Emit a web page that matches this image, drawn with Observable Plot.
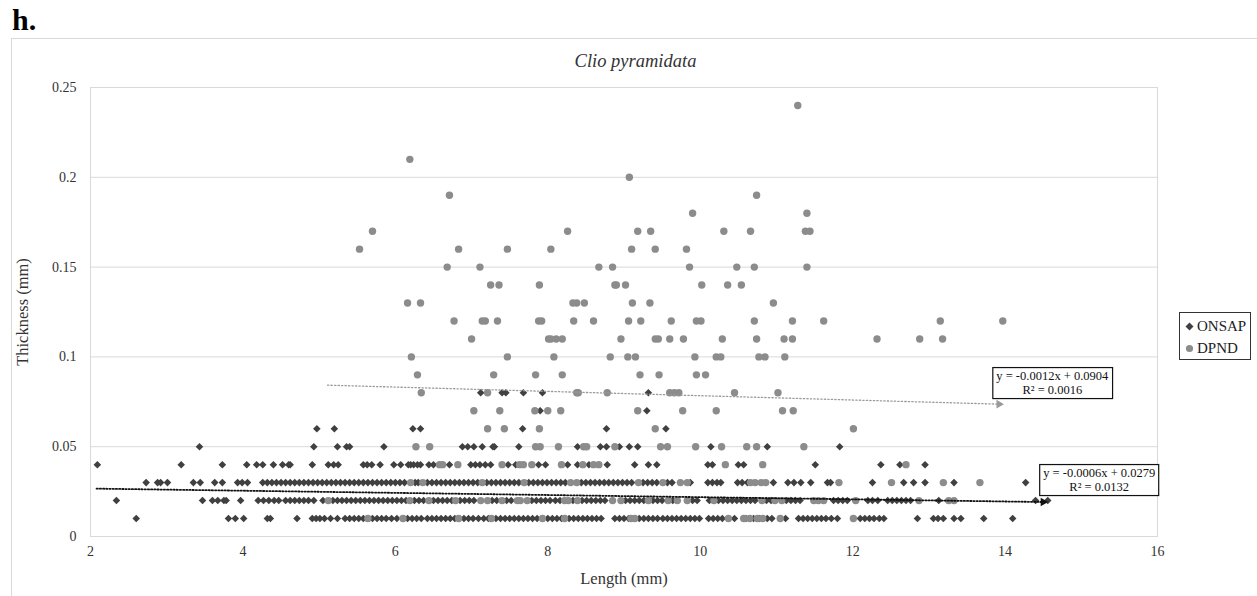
<!DOCTYPE html>
<html><head><meta charset="utf-8">
<script src="https://cdn.jsdelivr.net/npm/d3@7"></script>
<script src="https://cdn.jsdelivr.net/npm/@observablehq/plot@0.6"></script>
<style>
body{margin:0;background:#fff;font-family:"Liberation Serif","Times New Roman",serif;color:#222;}
#page{position:relative;width:1257px;height:596px;overflow:hidden;}
#fig{position:absolute;left:12px;top:0px;font-size:30px;font-weight:bold;line-height:40px;color:#000;}
#frame{position:absolute;left:11px;top:38px;width:1270px;height:580px;border:1px solid #d9d9d9;}
#chart{position:absolute;left:0;top:0;}
#chart svg text{font-family:"Liberation Serif","Times New Roman",serif;}
#legend{position:absolute;left:1179px;top:312px;width:72px;height:48px;border:1px solid #333;box-sizing:border-box;background:#fff;}
#legend .item{position:absolute;left:0;height:20px;line-height:20px;font-size:15px;color:#222;}
#legend svg{position:absolute;left:5px;top:6px;}
#legend span{position:absolute;left:17px;white-space:nowrap;}
</style>
</head><body>
<div id="page">
  <div id="frame"></div>
  <div id="fig">h.</div>
  <div id="chart"></div>
  <div id="legend"></div>
</div>
<script>
// ---- labels & ticks ----
const chartTitle = "Clio pyramidata";
const xLabel = "Length (mm)";
const yLabel = "Thickness (mm)";
const xTicks = [2, 4, 6, 8, 10, 12, 14, 16];
const yTicks = [0, 0.05, 0.1, 0.15, 0.2, 0.25];
const yTickLabels = ["0", "0.05", "0.1", "0.15", "0.2", "0.25"];
const seriesNames = ["ONSAP", "DPND"];

// ---- ONSAP lengths (mm) by thickness level ----
const onsap01 = [2.60, 3.81, 3.90, 4.01, 4.32, 4.36, 4.71, 4.91, 4.96, 5.01, 5.07, 5.15, 5.24, 5.34, 5.40, 5.46, 5.52, 5.58, 5.70, 5.76, 5.82, 5.88, 5.95, 6.02, 6.16, 6.22, 6.28, 6.34, 6.42, 6.48, 6.54, 6.60, 6.66, 6.72, 6.78, 6.90, 6.96, 7.02, 7.09, 7.16, 7.22, 7.32, 7.38, 7.44, 7.50, 7.56, 7.62, 7.68, 7.74, 7.80, 7.86, 8.00, 8.06, 8.12, 8.18, 8.28, 8.34, 8.40, 8.46, 8.52, 8.58, 8.64, 8.70, 8.88, 8.94, 9.00, 9.06, 9.20, 9.26, 9.32, 9.38, 9.44, 9.51, 9.57, 9.63, 9.69, 9.75, 9.81, 9.87, 9.93, 9.99, 10.11, 10.17, 10.23, 10.29, 10.45, 10.60, 10.70, 10.78, 10.88, 10.94, 11.06, 11.12, 11.29, 11.35, 11.41, 11.47, 11.53, 11.59, 11.65, 11.72, 11.80, 12.10, 12.16, 12.22, 12.28, 12.35, 12.41, 12.85, 13.06, 13.12, 13.19, 13.33, 13.42, 13.72, 14.10];
const onsap02 = [2.34, 3.47, 3.60, 3.67, 3.75, 3.78, 3.97, 4.20, 4.27, 4.34, 4.41, 4.47, 4.56, 4.62, 4.68, 4.74, 4.80, 4.86, 4.93, 5.05, 5.18, 5.24, 5.30, 5.36, 5.42, 5.48, 5.54, 5.60, 5.66, 5.72, 5.78, 5.84, 5.90, 5.96, 6.02, 6.08, 6.14, 6.25, 6.31, 6.37, 6.50, 6.56, 6.62, 6.68, 6.74, 6.85, 6.91, 6.97, 7.03, 7.27, 7.33, 7.46, 7.52, 7.79, 7.85, 7.91, 7.97, 8.03, 8.10, 8.16, 8.33, 8.45, 8.51, 8.57, 8.63, 8.69, 8.75, 9.02, 9.08, 9.14, 9.20, 9.26, 9.38, 9.44, 9.50, 9.64, 9.90, 9.96, 10.12, 10.24, 10.30, 10.36, 10.42, 10.48, 10.54, 10.60, 10.66, 10.72, 10.87, 10.93, 11.13, 11.19, 11.25, 11.31, 11.75, 11.81, 11.87, 11.93, 12.20, 12.26, 12.33, 12.46, 12.52, 12.58, 12.64, 12.70, 12.76, 13.13, 14.40, 14.56];
const onsap03 = [2.73, 2.88, 2.92, 3.01, 3.35, 3.44, 3.63, 3.73, 3.93, 3.99, 4.06, 4.26, 4.32, 4.38, 4.44, 4.50, 4.56, 4.62, 4.68, 4.74, 4.80, 4.86, 4.92, 4.98, 5.04, 5.10, 5.16, 5.22, 5.28, 5.34, 5.40, 5.46, 5.52, 5.58, 5.64, 5.70, 5.76, 5.82, 5.88, 5.94, 6.00, 6.06, 6.12, 6.26, 6.30, 6.42, 6.48, 6.54, 6.60, 6.66, 6.72, 6.78, 6.84, 6.90, 6.96, 7.02, 7.08, 7.20, 7.26, 7.32, 7.38, 7.44, 7.50, 7.56, 7.62, 7.75, 7.81, 7.87, 7.93, 7.99, 8.05, 8.11, 8.17, 8.23, 8.44, 8.50, 8.56, 8.62, 8.68, 8.74, 8.80, 8.86, 8.92, 8.98, 9.04, 9.10, 9.25, 9.31, 9.37, 9.43, 9.57, 9.63, 9.87, 10.10, 10.16, 10.22, 10.27, 10.49, 10.55, 10.62, 10.96, 11.15, 11.23, 11.32, 11.45, 11.67, 11.71, 12.26, 12.67, 12.80, 12.95, 13.33, 14.27];
const onsap04 = [2.09, 3.19, 3.73, 4.05, 4.18, 4.26, 4.40, 4.52, 4.60, 4.62, 4.91, 5.12, 5.19, 5.25, 5.58, 5.63, 5.69, 5.80, 5.98, 6.07, 6.17, 6.20, 6.24, 6.29, 6.33, 6.44, 6.50, 6.71, 6.99, 7.05, 7.11, 7.18, 7.25, 7.48, 7.58, 7.88, 7.97, 8.26, 8.39, 8.54, 8.78, 9.14, 9.32, 9.43, 10.10, 10.16, 10.50, 10.57, 11.51, 12.37, 12.62, 12.95];
const onsap05 = [3.43, 4.93, 5.24, 5.36, 5.40, 5.85, 6.88, 6.95, 7.03, 7.14, 7.28, 7.30, 7.62, 8.39, 8.69, 8.77, 8.94, 9.07, 9.18, 10.14, 10.88, 11.83];
const onsap06 = [4.97, 5.20, 6.23, 6.33, 7.67, 8.77, 9.55];
const onsap07 = [7.90, 9.30];
const onsap08 = [7.12, 7.40, 7.45, 7.68, 7.93, 9.32];

// ---- DPND lengths (mm) by thickness level ----
const dpnd01 = [5.64, 6.10, 6.83, 7.26, 7.93, 8.22, 9.09, 9.14, 10.37, 10.57, 10.65, 10.75, 10.82, 11.05, 12.01];
const dpnd02 = [5.12, 6.19, 6.44, 6.79, 7.12, 7.21, 7.40, 7.60, 7.64, 7.73, 8.22, 8.27, 8.39, 8.85, 8.96, 9.32, 9.58, 9.70, 9.83, 10.18, 10.81, 10.98, 11.07, 11.49, 11.55, 11.62, 12.04, 12.87, 13.26, 13.33];
const dpnd03 = [6.20, 6.36, 7.14, 7.69, 8.30, 8.38, 9.19, 9.51, 9.74, 9.83, 10.66, 10.72, 10.80, 10.86, 11.82, 12.51, 13.19, 13.67];
const dpnd04 = [6.58, 6.62, 6.82, 7.40, 7.63, 7.68, 7.79, 8.18, 8.46, 8.60, 8.67, 10.33, 10.82, 12.70];
const dpnd05 = [6.27, 6.45, 7.84, 7.90, 8.14, 8.47, 8.51, 8.88, 9.48, 9.57, 9.94, 10.28, 10.61, 10.74, 11.36];
const dpnd06 = [7.21, 7.43, 7.89, 9.41, 12.01];
const dpnd07 = [7.03, 7.37, 7.83, 8.00, 8.17, 9.18, 9.77, 10.21, 11.08, 11.22];
const dpnd08 = [6.34, 7.21, 8.38, 8.40, 8.78, 9.60, 9.66, 9.72, 10.45, 11.02];
const dpnd09 = [6.29, 7.29, 7.84, 8.19, 9.21, 9.46, 9.95, 10.07];
const dpnd10 = [6.21, 7.47, 8.08, 8.82, 9.05, 9.15, 9.93, 10.21, 10.27, 10.77, 10.85, 11.11];
const dpnd11 = [7.00, 8.01, 8.04, 8.11, 8.19, 8.96, 9.41, 9.45, 9.60, 9.78, 10.29, 10.74, 11.10, 11.21, 12.32, 12.88, 13.18];
const dpnd12 = [6.77, 7.14, 7.18, 7.34, 7.88, 7.92, 8.34, 8.60, 9.06, 9.22, 9.62, 9.95, 10.01, 10.71, 11.21, 11.62, 13.15, 13.97];
const dpnd13 = [6.16, 6.33, 8.33, 8.38, 8.48, 9.11, 9.34, 10.96];
const dpnd14 = [7.25, 7.36, 7.89, 8.88, 8.90, 9.02, 10.02, 10.36, 10.54];
const dpnd15 = [6.68, 7.11, 8.67, 8.85, 9.86, 10.48, 10.71, 11.40];
const dpnd16 = [5.53, 6.83, 7.47, 8.04, 9.10, 9.41, 9.82];
const dpnd17 = [5.70, 8.26, 9.18, 9.35, 10.31, 10.66, 11.38, 11.44];
const dpnd18 = [9.90, 11.40];
const dpnd19 = [6.71, 10.74];
const dpnd20 = [9.07];
const dpnd21 = [6.19];
const dpnd24 = [11.28];

// ---- trendlines (Excel linear fits) ----
const trendSeries = ["ONSAP", "DPND"];
const trendSlope = [-0.0006, -0.0012];
const trendIntercept = [0.0279, 0.0904];
const trendR2 = ["0.0132", "0.0016"];
const trendXStart = [2.08, 5.11];
const trendXEnd = [14.5, 13.92];
const eqLabelX = [15.235, 14.62];
const eqLabelY = [0.0317, 0.0857];

// ---- build tables ----
const onsapRows = [[0.01, onsap01], [0.02, onsap02], [0.03, onsap03], [0.04, onsap04], [0.05, onsap05], [0.06, onsap06], [0.07, onsap07], [0.08, onsap08]];
const dpndRows = [[0.01, dpnd01], [0.02, dpnd02], [0.03, dpnd03], [0.04, dpnd04], [0.05, dpnd05], [0.06, dpnd06], [0.07, dpnd07], [0.08, dpnd08], [0.09, dpnd09], [0.10, dpnd10], [0.11, dpnd11], [0.12, dpnd12], [0.13, dpnd13], [0.14, dpnd14], [0.15, dpnd15], [0.16, dpnd16], [0.17, dpnd17], [0.18, dpnd18], [0.19, dpnd19], [0.20, dpnd20], [0.21, dpnd21], [0.24, dpnd24]];
const toPts = rows => rows.flatMap(([t, xs]) => xs.map(x => ({length: x, thickness: t})));
const onsapPts = toPts(onsapRows);
const dpndPts = toPts(dpndRows);

const fmt = v => (v < 0 ? "-" : "") + Math.abs(v).toFixed(4);
const trends = trendSeries.map((s, i) => ({
  series: s,
  pts: [trendXStart[i], trendXEnd[i]].map(x => ({length: x, thickness: trendSlope[i] * x + trendIntercept[i]})),
  label: `y = ${fmt(trendSlope[i])}x + ${trendIntercept[i].toFixed(4)}\nR² = ${trendR2[i]}`,
  lx: eqLabelX[i], ly: eqLabelY[i]
}));
const ends = trends.map(t => ({series: t.series, ...t.pts[1]}));

const FONT = "'Liberation Serif', 'Times New Roman', serif";
const DARK = "#404040", GRAY = "#8c8c8c", GRID = "#d9d9d9";
const colorOf = s => s === "ONSAP" ? "#111" : "#9a9a9a";

const plot = Plot.plot({
  width: 1257, height: 596,
  marginLeft: 90, marginRight: 100, marginTop: 87, marginBottom: 60,
  style: {fontFamily: FONT, fontSize: "14px", background: "transparent", color: "#333"},
  x: {domain: [2, 16]},
  y: {domain: [0, 0.25]},
  marks: [
    Plot.gridY(yTicks, {stroke: GRID, strokeOpacity: 1, strokeWidth: 1}),
    Plot.frame({stroke: GRID, strokeWidth: 1}),
    Plot.axisX({ticks: xTicks, tickSize: 0, tickPadding: 10, label: null, color: "#333", fontSize: 14, fontFamily: FONT}),
    Plot.axisY({ticks: yTicks, tickFormat: (d) => yTickLabels[yTicks.indexOf(d)], tickSize: 0, tickPadding: 14, label: null, color: "#333", fontSize: 14, fontFamily: FONT}),
    Plot.text([xLabel], {frameAnchor: "bottom", lineAnchor: "middle", dy: 42, fontSize: 16.5, fill: "#333", fontFamily: FONT}),
    Plot.text([yLabel], {frameAnchor: "left", textAnchor: "middle", lineAnchor: "middle", dx: -68, rotate: -90, fontSize: 16.5, fill: "#333", fontFamily: FONT}),
    Plot.text([chartTitle], {frameAnchor: "top", lineAnchor: "middle", dx: 11.5, dy: -26, fontSize: 18.5, fontStyle: "italic", fill: "#333", fontFamily: FONT}),
    Plot.dot(onsapPts, {x: "length", y: "thickness", symbol: "diamond2", r: 3.4, fill: DARK, stroke: "none"}),
    Plot.dot(dpndPts, {x: "length", y: "thickness", symbol: "circle", r: 3.7, fill: GRAY, stroke: "none"}),
    ...trends.map(t => Plot.line(t.pts, {x: "length", y: "thickness", stroke: colorOf(t.series),
      strokeWidth: t.series === "ONSAP" ? 1.8 : 1.3, strokeDasharray: t.series === "ONSAP" ? "1.3,1.9" : "1.3,2.2"})),
    Plot.dot(ends, {x: "length", y: "thickness", symbol: "triangle", rotate: 90, r: 3.2, fill: d => colorOf(d.series), stroke: "none"}),
    Plot.text(trends, {x: "lx", y: "ly", text: "label", fontSize: 12.5, lineHeight: 1.12, fill: "#111", fontFamily: FONT})
  ]
});
document.getElementById("chart").appendChild(plot);

// boxes around trendline equations, sized to the rendered text
Array.from(plot.querySelectorAll("text")).filter(el => el.textContent.includes("R²")).forEach(el => {
  const b = el.getBBox();
  const r = document.createElementNS("http://www.w3.org/2000/svg", "rect");
  const t = el.getAttribute("transform");
  if (t) r.setAttribute("transform", t);
  r.setAttribute("x", b.x - 3.5); r.setAttribute("y", b.y - 1.5);
  r.setAttribute("width", b.width + 7); r.setAttribute("height", b.height + 3);
  r.setAttribute("fill", "#fff"); r.setAttribute("stroke", "#111"); r.setAttribute("stroke-width", "1.2");
  el.parentNode.insertBefore(r, el);
});

// legend
const legend = d3.select("#legend");
seriesNames.forEach((name, i) => {
  const item = legend.append("div").attr("class", "item").style("top", (3 + i * 22) + "px");
  const svg = item.append("svg").attr("width", 9).attr("height", 9);
  if (name === "ONSAP") svg.append("path").attr("d", "M4.5,0.5L8.5,4.5L4.5,8.5L0.5,4.5Z").attr("fill", DARK);
  else svg.append("circle").attr("cx", 4.5).attr("cy", 4.5).attr("r", 3.6).attr("fill", GRAY);
  item.append("span").text(name);
});
</script>
</body></html>
